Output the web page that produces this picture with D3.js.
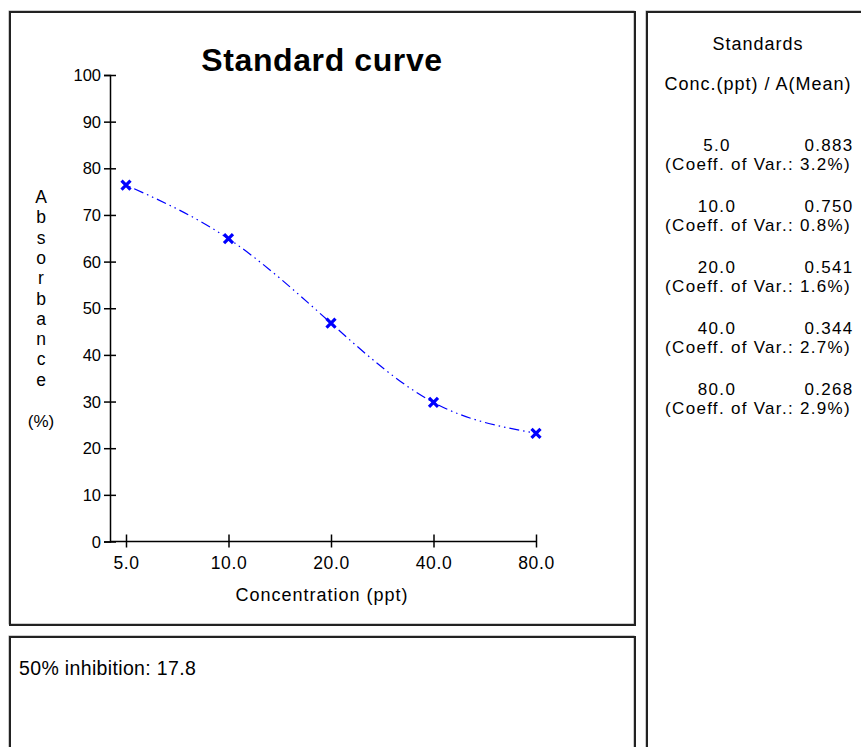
<!DOCTYPE html>
<html>
<head>
<meta charset="utf-8">
<script src="https://cdn.jsdelivr.net/npm/d3@7"></script>
<style>
  body { margin: 0; background: #fff; }
  text { font-family: "Liberation Sans", Arial, sans-serif; fill: #000; }
</style>
</head>
<body>
<div id="chart"></div>
<script>
// standards: concentration (ppt), A/A0 in %, mean absorbance, coefficient of variation
const concentrations = [5, 10, 20, 40, 80];
const concLabels = ["5.0", "10.0", "20.0", "40.0", "80.0"];
const percentValues = [76.4, 64.9, 46.8, 29.8, 23.2];
const meanAbs = ["0.883", "0.750", "0.541", "0.344", "0.268"];
const coeffVar = ["3.2%", "0.8%", "1.6%", "2.7%", "2.9%"];
const yTicks = [0, 10, 20, 30, 40, 50, 60, 70, 80, 90, 100];
const yLabelLetters = ["A", "b", "s", "o", "r", "b", "a", "n", "c", "e"];
const inhibition50 = "17.8";

const width = 861, height = 747;

const svg = d3.select("#chart").append("svg")
  .attr("width", width)
  .attr("height", height);

// panel frames
function frame(x, y, w, h) {
  svg.append("rect")
    .attr("x", x).attr("y", y).attr("width", w).attr("height", h)
    .attr("fill", "none").attr("stroke", "#999").attr("stroke-width", 1)
    .attr("transform", "translate(-1,-1)");
  svg.append("rect")
    .attr("x", x).attr("y", y).attr("width", w).attr("height", h)
    .attr("fill", "none").attr("stroke", "#222").attr("stroke-width", 2);
}
frame(10, 12, 625, 613);
frame(10, 637, 625, 130);
frame(647, 12, 230, 760);

// scales
const x = d3.scaleLog().domain([5, 80]).range([126, 536]);
const y = d3.scaleLinear().domain([0, 100]).range([541.5, 75]);
const x0 = 110;

// title
svg.append("text")
  .attr("x", 322).attr("y", 71)
  .attr("text-anchor", "middle")
  .style("font-size", "32px").style("font-weight", "bold")
  .style("letter-spacing", "0.6px")
  .text("Standard curve");

// y axis
const yAxis = svg.append("g")
  .attr("transform", "translate(" + x0 + ",0)")
  .call(d3.axisLeft(y).tickValues(yTicks).tickSize(6).tickPadding(3).tickFormat(d3.format("d")));
yAxis.select(".domain").attr("stroke", "#000").attr("stroke-width", 1.5);
yAxis.selectAll(".tick line").attr("x1", 6).attr("stroke-width", 1.5);
yAxis.selectAll(".tick text").style("font-size", "16.5px").attr("dy", "0.34em");

// x axis
const xAxis = svg.append("g")
  .attr("transform", "translate(0," + y(0) + ")")
  .call(d3.axisBottom(x).tickValues(concentrations).tickSize(6).tickPadding(9)
    .tickFormat((d, i) => concLabels[i]));
xAxis.select(".domain").remove();
xAxis.append("line")
  .attr("x1", x0).attr("x2", x(80))
  .attr("stroke", "#000").attr("stroke-width", 1.5);
xAxis.selectAll(".tick line").attr("y1", -7).attr("stroke-width", 1.5);
xAxis.selectAll(".tick text").style("font-size", "17.5px").style("letter-spacing", "0.6px");

svg.append("text")
  .attr("x", 322).attr("y", 601)
  .attr("text-anchor", "middle")
  .style("font-size", "18px")
  .style("letter-spacing", "1px")
  .text("Concentration (ppt)");

// stacked y label
svg.append("g").selectAll("text")
  .data(yLabelLetters)
  .enter().append("text")
  .attr("x", 41)
  .attr("y", (d, i) => 203 + i * 20.3)
  .attr("text-anchor", "middle")
  .style("font-size", "17.5px")
  .text(d => d);
svg.append("text")
  .attr("x", 41).attr("y", 427)
  .attr("text-anchor", "middle")
  .style("font-size", "17px")
  .text("(%)");

// fitted curve through standards
const pts = concentrations.map((c, i) => [c, percentValues[i]]);
svg.append("path")
  .datum(pts)
  .attr("fill", "none")
  .attr("stroke", "#0000ff")
  .attr("stroke-width", 1.2)
  .attr("stroke-dasharray", "10,4,1.5,4,1.5,4")
  .attr("stroke-dashoffset", -9)
  .attr("d", d3.line().x(d => x(d[0])).y(d => y(d[1])).curve(d3.curveNatural));

// markers
svg.append("g").selectAll("path")
  .data(pts)
  .enter().append("path")
  .attr("transform", d => "translate(" + x(d[0]) + "," + y(d[1]) + ")")
  .attr("d", "M-4.5,-4.5L4.5,4.5M4.5,-4.5L-4.5,4.5")
  .attr("stroke", "#0000ff")
  .attr("stroke-width", 3.2);

// standards panel
svg.append("text")
  .attr("x", 758).attr("y", 50)
  .attr("text-anchor", "middle")
  .style("font-size", "18px")
  .style("letter-spacing", "1px")
  .text("Standards");
svg.append("text")
  .attr("x", 758).attr("y", 90)
  .attr("text-anchor", "middle")
  .style("font-size", "18px")
  .style("letter-spacing", "1px")
  .text("Conc.(ppt) / A(Mean)");

const rows = svg.append("g").selectAll("g")
  .data(concLabels)
  .enter().append("g")
  .attr("transform", (d, i) => "translate(0," + (150.5 + i * 61) + ")")
  .style("font-size", "17px")
  .style("letter-spacing", "1.3px");
rows.append("text")
  .attr("x", 717).attr("text-anchor", "middle")
  .text(d => d);
rows.append("text")
  .attr("x", 829).attr("text-anchor", "middle")
  .text((d, i) => meanAbs[i]);
rows.append("text")
  .attr("x", 758).attr("y", 19.5).attr("text-anchor", "middle")
  .text((d, i) => "(Coeff. of Var.: " + coeffVar[i] + ")");

// result panel
svg.append("text")
  .attr("x", 19).attr("y", 675)
  .style("font-size", "19.5px")
  .style("letter-spacing", "0.35px")
  .text("50% inhibition: " + inhibition50);
</script>
</body>
</html>
